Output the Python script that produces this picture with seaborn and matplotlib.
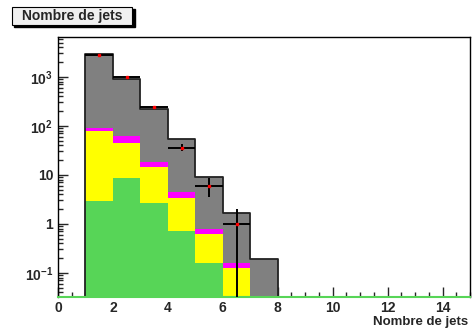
import numpy as np
import pandas as pd
import matplotlib
matplotlib.use("Agg")
import matplotlib.pyplot as plt
import matplotlib.patches as mpatches
from matplotlib.ticker import FixedLocator, FixedFormatter, NullFormatter
import seaborn as sns

# binning: nombre de jets, 0..15 in unit bins
bin_edges = list(range(0, 16))
bin_centers = [1.5, 2.5, 3.5, 4.5, 5.5, 6.5, 7.5]

# stacked components, contribution per bin
comp_green = [2.9, 8.4, 2.7, 0.70, 0.158, 0.0, 0.0]
comp_yellow = [75.0, 36.6, 11.4, 2.6, 0.46, 0.126, 0.0]
comp_magenta = [13.0, 17.0, 4.3, 1.2, 0.16, 0.032, 0.0]
comp_grey = [2809.0, 823.0, 201.0, 49.5, 8.4, 1.49, 0.19]

# data points
data_x = [1.5, 2.5, 3.5, 4.5, 5.5, 6.5]
data_y = [2770, 970, 240, 36, 6, 1]
data_err = [53, 31, 15.5, 6, 2.45, 1]

ytick_vals = [0.1, 1, 10, 100, 1000]
ytick_labels = [r"$10^{-1}$", "1", "10", r"$10^{2}$", r"$10^{3}$"]

sns.set_style("ticks")
plt.rcParams["font.family"] = ["Liberation Sans", "DejaVu Sans"]
plt.rcParams["font.weight"] = "bold"
plt.rcParams["mathtext.fontset"] = "custom"
plt.rcParams["mathtext.rm"] = "Liberation Sans:bold"
plt.rcParams["mathtext.it"] = "Liberation Sans:bold"
plt.rcParams["mathtext.bf"] = "Liberation Sans:bold"

colors = {"green": "#57d557", "yellow": "#ffff00", "magenta": "#ff00ff", "grey": "#808080"}
order = ["green", "yellow", "magenta", "grey"]

rows = []
for name, vals in zip(order, [comp_green, comp_yellow, comp_magenta, comp_grey]):
    for c, v in zip(bin_centers, vals):
        rows.append({"nj": c, "comp": name, "w": v})
df = pd.DataFrame(rows)

fig = plt.figure(figsize=(4.77, 3.35), dpi=100)
ax = fig.add_axes([58 / 477, 1 - 297 / 335, 412 / 477, 260 / 335])

sns.histplot(data=df, x="nj", weights="w", hue="comp", hue_order=order[::-1],
             multiple="stack", bins=bin_edges, element="step", palette=colors,
             linewidth=0, alpha=1, legend=False, ax=ax)

# outline of the total
tot = df.groupby("nj", as_index=False)["w"].sum()
sns.histplot(data=tot, x="nj", weights="w", bins=bin_edges, element="step", fill=False,
             color="#222222", linewidth=1.3, ax=ax)

ax.set_yscale("log")
ax.errorbar(data_x, data_y, xerr=0.5, yerr=data_err, fmt="s", color="black",
            mfc="red", mec="red", ms=2, elinewidth=1.4, capsize=0, zorder=5)

ax.set_xlim(0, 15)
ax.set_ylim(0.032, 6500)

ax.xaxis.set_major_locator(FixedLocator([0, 2, 4, 6, 8, 10, 12, 14]))
ax.xaxis.set_minor_locator(FixedLocator(np.arange(0, 15.01, 0.5)))
ax.yaxis.set_major_locator(FixedLocator(ytick_vals))
ax.yaxis.set_major_formatter(FixedFormatter(ytick_labels))
minor_y = [m * 10.0 ** e for e in range(-2, 4) for m in range(2, 10)]
ax.yaxis.set_minor_locator(FixedLocator(minor_y))
ax.yaxis.set_minor_formatter(NullFormatter())

ax.tick_params(axis="both", which="major", direction="in", length=7, width=1,
               labelsize=10, top=False, right=False)
ax.tick_params(axis="both", which="minor", direction="in", length=3.5, width=1,
               top=False, right=False)
ax.tick_params(axis="x", pad=3)
for lab in ax.get_xticklabels() + ax.get_yticklabels():
    lab.set_fontweight("bold")

for side in ["top", "right", "left"]:
    ax.spines[side].set_color("black")
    ax.spines[side].set_linewidth(1)
ax.spines["bottom"].set_color("#57d557")
ax.spines["bottom"].set_linewidth(1.5)

ax.set_xlabel("")
ax.set_ylabel("")
fig.text(468 / 477, 1 - 322 / 335, "Nombre de jets", ha="right", va="center",
         fontsize=9.5, fontweight="bold")

# title box with shadow
fig.patches.append(mpatches.Rectangle((14 / 477, 1 - 27 / 335), 121 / 477, 18 / 335,
                                      transform=fig.transFigure, fc="black", ec="black"))
fig.patches.append(mpatches.Rectangle((12 / 477, 1 - 25 / 335), 120 / 477, 18 / 335,
                                      transform=fig.transFigure, fc="#f0f0f0", ec="black", lw=0.8))
fig.text(72 / 477, 1 - 16 / 335, "Nombre de jets", ha="center", va="center",
         fontsize=10, fontweight="bold")

fig.savefig("out.png", dpi=100)
